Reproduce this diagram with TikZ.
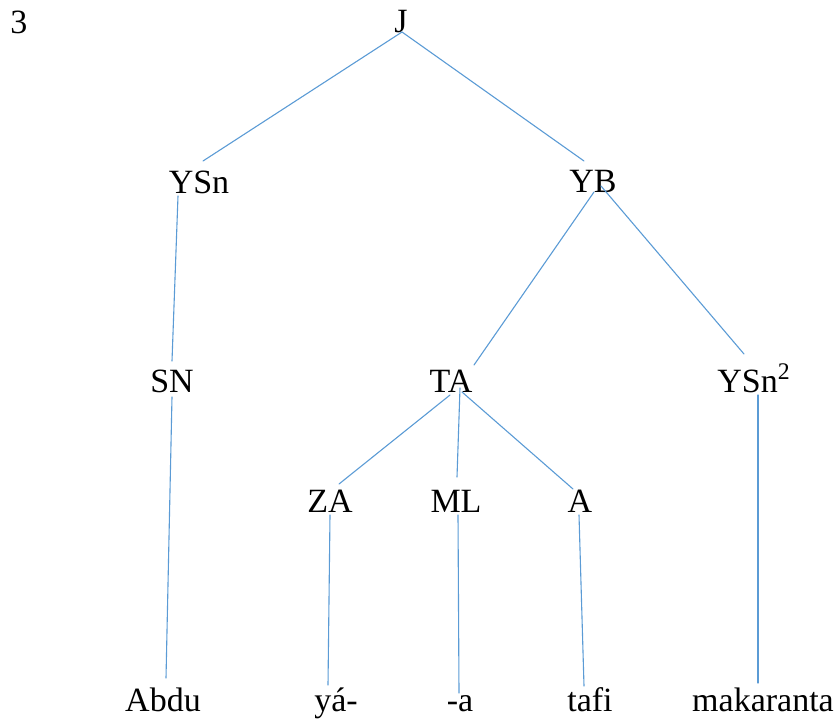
\documentclass[tikz,border=0pt]{standalone}
\usepackage{fontspec}
\setmainfont{Liberation Serif}
\usepackage{tikz}

\begin{document}
\begin{tikzpicture}
			[x=0.5pt,y=-0.5pt,line cap=round,
			%Styles
			word/.style={anchor=base,inner sep=0pt,font=\fontsize{17}{20}\selectfont},
			branch/.style={branchcolor,line width=0.55pt}
			]
			
			%Colors
			\definecolor{branchcolor}{RGB}{91,155,213}	%tree lines
			
			\useasboundingbox (0,0) rectangle (840,718);
			
			%The graphic
			
			\node[word] (three) at (19, 33) {3};
			\node[word] (j) at (401, 32) {J};
			
			\node[word] (ysn) at (199, 193) {YSn};
			\node[word] (yb) at (593, 192) {YB};
			
			\node[word] (sn) at (172, 392) {SN};
			\node[word] (ta) at (451, 392) {TA};
			\node[word] (ysnb) at (754, 392) {YSn\textsuperscript{2}};
			
			\node[word] (za) at (330, 512) {ZA};
			\node[word] (ml) at (456, 512) {ML};
			\node[word] (a) at (580, 512) {A};
			
			\node[word] (abdu) at (163, 711) {Abdu};
			\node[word] (ya) at (336, 711) {yá-};
			\node[word] (suf) at (460, 711) {-a};
			\node[word] (tafi) at (590, 711) {tafi};
			\node[word] (mak) at (763, 711) {makaranta};
			
			\draw[branch] ([shift={(1,0)}]j.base) -- ([shift={(4,-32)}]ysn.base);
			\draw[branch] ([shift={(1,0)}]j.base) -- ([shift={(-9,-31)}]yb.base);
			
			\draw[branch] ([shift={(-21,3)}]ysn.base) -- ([shift={(0,-31)}]sn.base);
			\draw[branch] ([shift={(0,5)}]sn.base) -- ([shift={(3,-33)}]abdu.base);
			
			\draw[branch] ([shift={(1,0)}]yb.base) -- ([shift={(23,-27)}]ta.base);
			\draw[branch] ([shift={(8,-6)}]yb.base) -- ([shift={(-10,-38)}]ysnb.base);
			
			\draw[branch] ([shift={(-1,3)}]ta.base) -- ([shift={(9,-28)}]za.base);
			\draw[branch] ([shift={(9,-4)}]ta.base) -- ([shift={(1,-35)}]ml.base);
			\draw[branch] ([shift={(11,0)}]ta.base) -- ([shift={(-7,-23)}]a.base);
			
			\draw[branch] ([shift={(0,3)}]za.base) -- ([shift={(-8,-26)}]ya.base);
			\draw[branch] ([shift={(2,3)}]ml.base) -- ([shift={(-1,-18)}]suf.base);
			\draw[branch] ([shift={(-1,3)}]a.base) -- ([shift={(-6,-25)}]tafi.base);
			\draw[branch] ([shift={(4,3)}]ysnb.base) -- ([shift={(-5,-28)}]mak.base);
		\end{tikzpicture}
\end{document}
